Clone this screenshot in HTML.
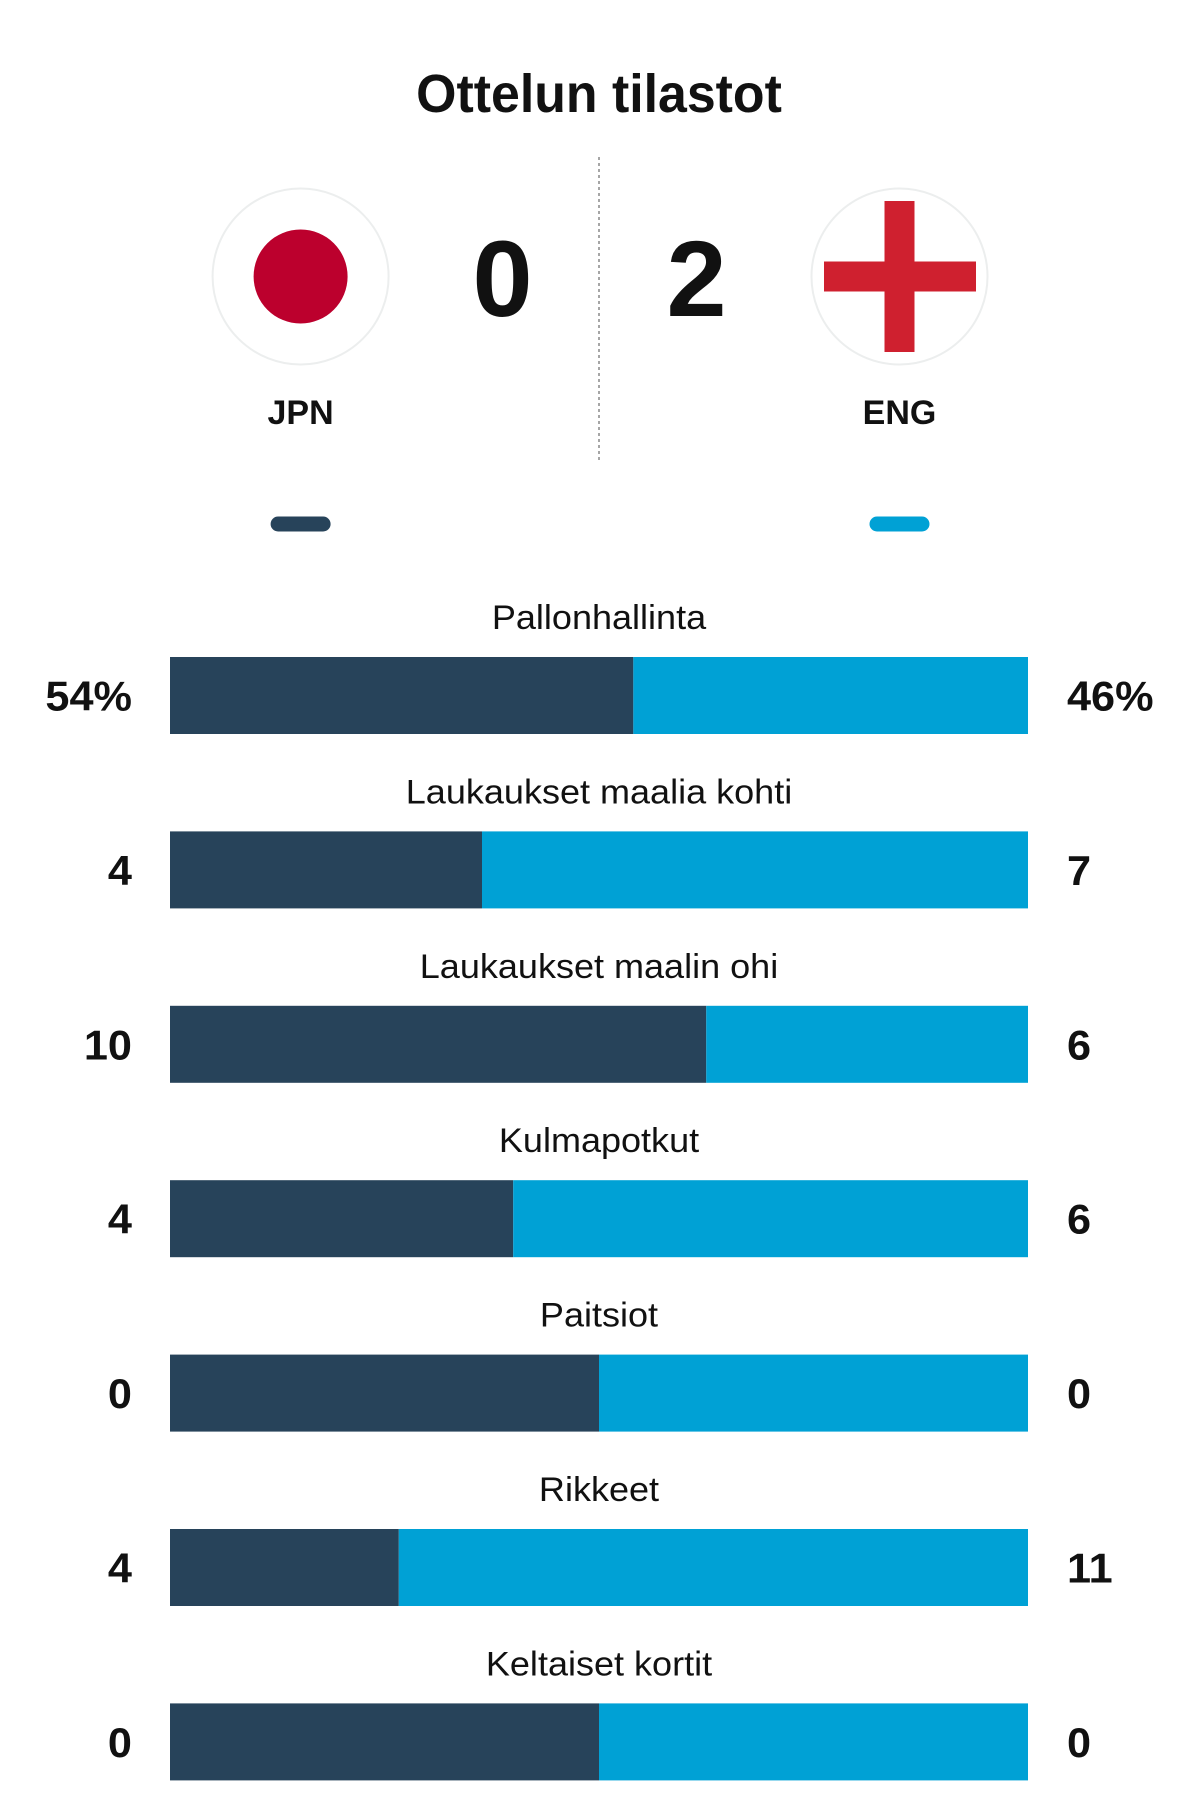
<!DOCTYPE html>
<html><head><meta charset="utf-8"><style>
body{margin:0;width:1199px;height:1799px;background:#fff;overflow:hidden;font-family:"Liberation Sans",sans-serif;}
#root{position:relative;width:1199px;height:1799px;}
</style></head><body><div id="root">
<svg width="1199" height="560" style="position:absolute;left:0;top:0">
<text x="599" y="112" text-anchor="middle" font-family="Liberation Sans" font-weight="bold" font-size="54" transform="translate(599,0) scale(0.96,1) translate(-599,0)" fill="#111">Ottelun tilastot</text>
<line x1="599" y1="157" x2="599" y2="463" stroke="#888" stroke-width="1.5" stroke-dasharray="3,3"/>
<circle cx="300.6" cy="276.5" r="88" fill="#fff" stroke="#eceeee" stroke-width="2"/>
<circle cx="300.6" cy="276.5" r="47" fill="#bc002d"/>
<circle cx="899.5" cy="276.5" r="88" fill="#fff" stroke="#eceeee" stroke-width="2"/>
<rect x="884.5" y="201" width="30" height="151" fill="#cf202f"/>
<rect x="824" y="261.5" width="152" height="30" fill="#cf202f"/>
<text x="502.6" y="316" text-anchor="middle" font-weight="bold" font-size="108" fill="#111">0</text>
<text x="696.5" y="316" text-anchor="middle" font-weight="bold" font-size="108" fill="#111">2</text>
<text x="300.6" y="424" text-anchor="middle" font-weight="bold" font-size="34" fill="#111">JPN</text>
<text x="899.5" y="424" text-anchor="middle" font-weight="bold" font-size="34" fill="#111">ENG</text>
<rect x="270.6" y="516.5" width="60" height="15" rx="7.5" fill="#27435a"/>
<rect x="869.5" y="516.5" width="60" height="15" rx="7.5" fill="#00a1d5"/>
</svg>
<svg id="bars" width="1199" height="1799" style="position:absolute;left:0;top:0"></svg>
</div>
<script>
const categories=["Pallonhallinta","Laukaukset maalia kohti","Laukaukset maalin ohi","Kulmapotkut","Paitsiot","Rikkeet","Keltaiset kortit"];
const homeValues=[54,4,10,4,0,4,0];
const awayValues=[46,7,6,6,0,11,0];
const homeLabels=["54%","4","10","4","0","4","0"];
const awayLabels=["46%","7","6","6","0","11","0"];
const NS="http://www.w3.org/2000/svg";
const svg=document.getElementById('bars');
const X0=170,X1=1028,TOP0=657,STEP=174.4,BH=77;
function xs(h,a){const t=h+a;return X0+(X1-X0)*(t===0?0.5:h/t);}
function yTop(i){return TOP0+i*STEP;}
function mk(tag,attrs){const e=document.createElementNS(NS,tag);for(const k in attrs)e.setAttribute(k,attrs[k]);svg.appendChild(e);return e;}
categories.forEach((c,i)=>{
  const y=yTop(i),sx=xs(homeValues[i],awayValues[i]);
  const lb=mk('text',{x:599,y:y-28,'text-anchor':'middle','font-size':34,fill:'#111',transform:`translate(599,0) scale(1.06,1) translate(-599,0)`});
  lb.textContent=c;
  
  
  const b1=mk('rect',{x:X0,y:y,width:sx-X0,height:BH,fill:'#27435a'});
  
  
  const b2=mk('rect',{x:sx,y:y,width:X1-sx,height:BH,fill:'#00a1d5'});
  
  
  const hv=mk('text',{x:132,y:y+BH/2+15,'text-anchor':'end','font-size':42,'font-weight':'bold',fill:'#111',transform:`translate(132,0) scale(1.03,1) translate(-132,0)`});
  hv.textContent=homeLabels[i];
  
  
  const av=mk('text',{x:1067,y:y+BH/2+15,'text-anchor':'start','font-size':42,'font-weight':'bold',fill:'#111',transform:`translate(1067,0) scale(1.03,1) translate(-1067,0)`});
  av.textContent=awayLabels[i];
  
  
});
</script>
</body></html>
